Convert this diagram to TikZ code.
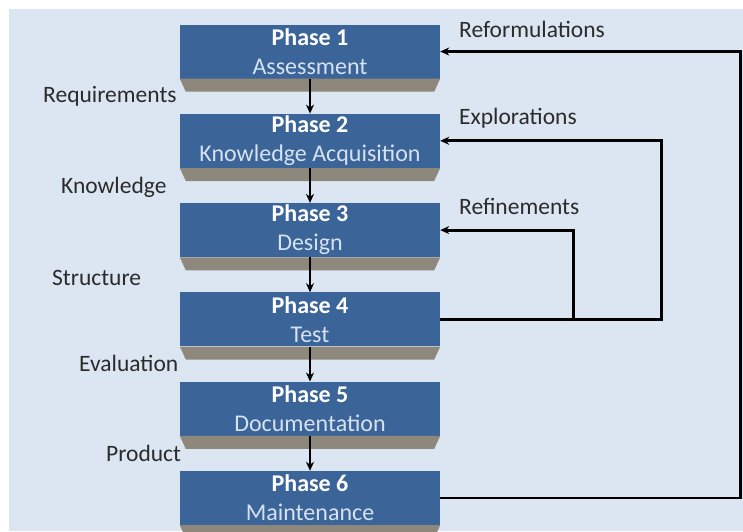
\documentclass[tikz,border=0pt]{standalone}
\usepackage{fontspec}
\setmainfont{Carlito}
\usetikzlibrary{arrows.meta,calc}
\definecolor{panelbg}{HTML}{DCE6F2}
\definecolor{phaseblue}{HTML}{3B6499}
\definecolor{phasegray}{HTML}{8E877B}
\definecolor{phasetext}{HTML}{D6E2F0}
\definecolor{labeltext}{HTML}{2B2B2B}
\tikzset{
  % style for the blue phase boxes
  phase box/.style={
    fill=phaseblue, text=white, align=center,
    minimum width=260pt, minimum height=54pt, inner sep=0pt,
    font=\fontsize{24}{29}\selectfont
  },
  % style for the gray bottom face under each box
  phase bevel/.style={fill=phasegray},
  % style for the arrows between the phases and back to them
  flow arrow/.style={line width=2.8pt, -{Stealth[length=9pt,width=8pt]}},
  % style for the texts beside the arrows
  flow label/.style={anchor=west, inner sep=0pt, text=labeltext,
    font=\fontsize{23.5}{28}\selectfont},
}

\begin{document}
\begin{tikzpicture}[x=1pt, y=-1pt]

% Background
\useasboundingbox (0,0) rectangle (743,531);
\fill[panelbg] (9,9) rectangle (743,531);

% Phases
\foreach \i/\task in {1/Assessment, 2/Knowledge Acquisition, 3/Design, 4/Test, 5/Documentation, 6/Maintenance} {
    \node[phase box] (phase\i) at (310, {51.5 + 89.3*(\i-1)}) {\textbf{Phase \i}\\ \textcolor{phasetext}{\task}};
    \fill[phase bevel] (phase\i.south west) -- (phase\i.south east) -- ++(-6,13) -- ($(phase\i.south west) + (6,13)$) -- cycle;
}

% Arrows down
\foreach \i/\j in {1/2, 2/3, 3/4, 4/5, 5/6}
    \draw[flow arrow] (phase\i.south) -- (phase\j.north);

% Feedback loops
\draw[flow arrow] (phase6.east) -- ++(300,0) |- (phase1.east);
\draw[flow arrow] (phase4.east) -- ++(221,0) |- (phase2.east);
\coordinate (split) at ($(phase4.east) + (133,0)$);
\draw[flow arrow] (split) |- (phase3.east);

% Labels
\node[flow label] (requirements) at (43,96) {Requirements};
\node[flow label] (knowledge) at (61,187) {Knowledge};
\node[flow label] (structure) at (52,278) {Structure};
\node[flow label] (evaluation) at (79,363) {Evaluation};
\node[flow label] (product) at (106,453) {Product};
\node[flow label] (reformulations) at (459,29) {Reformulations};
\node[flow label] (explorations) at (459,118) {Explorations};
\node[flow label] (refinements) at (459,206) {Refinements};

\end{tikzpicture}
\end{document}
